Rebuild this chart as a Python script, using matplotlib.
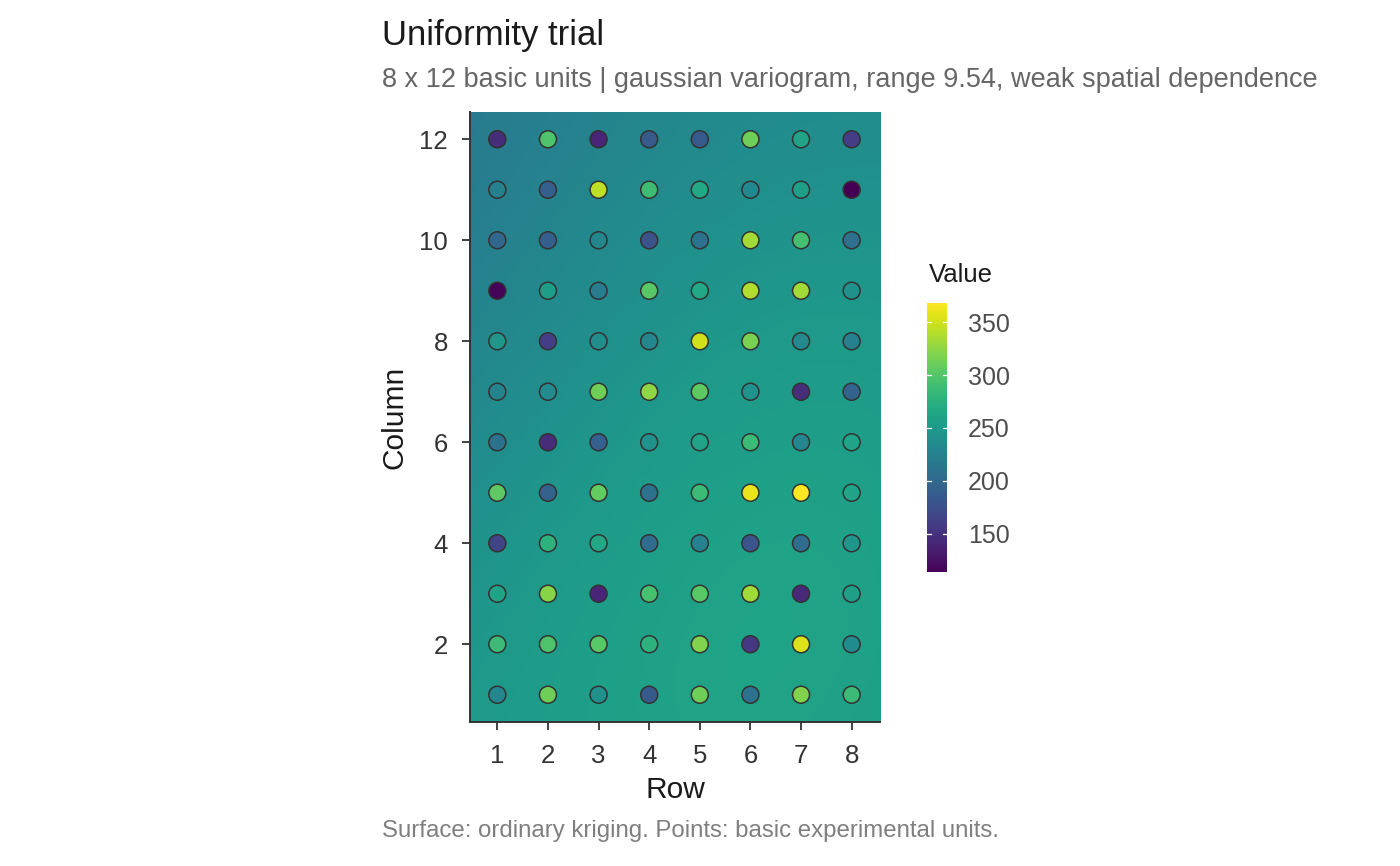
import numpy as np
import matplotlib
matplotlib.use("Agg")
import matplotlib.pyplot as plt
import matplotlib.transforms as mtransforms

plt.rcParams['font.family'] = ['Liberation Sans', 'DejaVu Sans']

# ---------------- data ----------------
rows = [1, 2, 3, 4, 5, 6, 7, 8]            # x axis ("Row")
columns = [1, 2, 3, 4, 5, 6, 7, 8, 9, 10, 11, 12]  # y axis ("Column")

# observed values, one list per Column, ordered by Row 1..8
col_01 = [231, 312, 241, 185, 312, 210, 320, 287]
col_02 = [287, 297, 302, 277, 320, 155, 355, 236]
col_03 = [261, 322, 140, 294, 302, 333, 142, 256]
col_04 = [165, 277, 266, 203, 226, 180, 203, 246]
col_05 = [305, 193, 307, 208, 287, 360, 368, 261]
col_06 = [210, 145, 190, 241, 261, 287, 231, 261]
col_07 = [228, 235, 312, 325, 305, 243, 147, 195]
col_08 = [248, 160, 238, 232, 350, 317, 234, 224]
col_09 = [116, 254, 220, 302, 266, 338, 333, 241]
col_10 = [198, 190, 232, 178, 210, 333, 292, 208]
col_11 = [225, 190, 343, 289, 266, 233, 256, 114]
col_12 = [145, 297, 140, 185, 185, 312, 261, 160]

x_ticks = [1, 2, 3, 4, 5, 6, 7, 8]
y_ticks = [2, 4, 6, 8, 10, 12]
cbar_ticks = [150, 200, 250, 300, 350]

variogram_model = "gaussian"
variogram_range = 9.54
nugget_fraction = 0.8   # weak spatial dependence

title = "Uniformity trial"
subtitle = "8 x 12 basic units | gaussian variogram, range 9.54, weak spatial dependence"
caption = "Surface: ordinary kriging. Points: basic experimental units."

# ---------------- assemble ----------------
Z = np.array([col_01, col_02, col_03, col_04, col_05, col_06,
              col_07, col_08, col_09, col_10, col_11, col_12], dtype=float)
XX, YY = np.meshgrid(rows, columns)
px, py, pz = XX.ravel().astype(float), YY.ravel().astype(float), Z.ravel()

# ---------------- ordinary kriging ----------------
def gamma(h):
    s = np.var(pz)
    g = nugget_fraction * s + (1 - nugget_fraction) * s * (1 - np.exp(-(h / variogram_range) ** 2))
    return np.where(h > 0, g, 0.0)

n = len(pz)
D = np.hypot(px[:, None] - px[None, :], py[:, None] - py[None, :])
A = np.ones((n + 1, n + 1))
A[:n, :n] = gamma(D)
A[n, n] = 0.0

xlim = (0.46, 8.56)
ylim = (0.46, 12.54)
gx = np.linspace(xlim[0], xlim[1], 163)
gy = np.linspace(ylim[0], ylim[1], 243)
GX, GY = np.meshgrid(gx, gy)
H = np.hypot(GX.ravel()[:, None] - px[None, :], GY.ravel()[:, None] - py[None, :])
B = np.ones((H.shape[0], n + 1))
B[:, :n] = gamma(H)
W = np.linalg.solve(A, B.T)
surface = (W[:n].T @ pz).reshape(GX.shape)

vmin, vmax = pz.min(), pz.max()

# ---------------- figure ----------------
fig = plt.figure(figsize=(14, 8.66), dpi=100)
ax = fig.add_axes([470 / 1400, 144 / 866, 410 / 1400, 610 / 866])

ax.imshow(surface, origin='lower', extent=(xlim[0], xlim[1], ylim[0], ylim[1]),
          cmap='viridis', vmin=vmin, vmax=vmax, aspect='auto', interpolation='bilinear', zorder=1)
ax.scatter(px, py, c=pz, cmap='viridis', vmin=vmin, vmax=vmax, s=150,
           edgecolors='#333333', linewidths=1.1, zorder=3)

ax.set_xlim(*xlim)
ax.set_ylim(*ylim)
ax.set_xticks(x_ticks)
ax.set_yticks(y_ticks)
for side in ['top', 'right']:
    ax.spines[side].set_visible(False)
for side in ['left', 'bottom']:
    ax.spines[side].set_color('#333333')
    ax.spines[side].set_linewidth(1.4)
ax.tick_params(axis='both', length=5.5, width=1.3, color='#333333',
               labelsize=18.5, labelcolor='#333333', pad=10.5)

ax.set_xlabel("Row", fontsize=21.5, color='#1a1a1a')
ax.set_ylabel("Column", fontsize=21.5, color='#1a1a1a')
ax.xaxis.label.set_va('center')
ax.yaxis.label.set_va('center')
ax.xaxis.set_label_coords(0.5, (722 - 790) / 610)
ax.yaxis.set_label_coords((395 - 470) / 410, 0.5)

# colorbar
cax = fig.add_axes([927 / 1400, (866 - 572) / 866, 20 / 1400, 269 / 866])
sm = plt.cm.ScalarMappable(cmap='viridis', norm=plt.Normalize(vmin, vmax))
cb = fig.colorbar(sm, cax=cax)
cb.outline.set_visible(False)
cb.set_ticks(cbar_ticks)
cax.tick_params(length=0, labelsize=18, labelcolor='#4d4d4d', pad=15)
trans = mtransforms.blended_transform_factory(cax.transAxes, cax.transData)
for t in cbar_ticks:
    cax.plot([0, 0.22], [t, t], color='white', lw=0.9, transform=trans, zorder=5)
    cax.plot([0.78, 1], [t, t], color='white', lw=0.9, transform=trans, zorder=5)
fig.text(929 / 1400, 1 - 275 / 866, "Value", fontsize=18.5, color='#1a1a1a',
         ha='left', va='center')

# titles
fig.text(382 / 1400, 1 - 35 / 866, title, fontsize=25, color='#1a1a1a', ha='left', va='center')
fig.text(382 / 1400, 1 - 80 / 866, subtitle, fontsize=19.5, color='#666666', ha='left', va='center')
fig.text(382 / 1400, 1 - 831 / 866, caption, fontsize=17.3, color='#7f7f7f', ha='left', va='center')

fig.savefig("out.png", dpi=100)
